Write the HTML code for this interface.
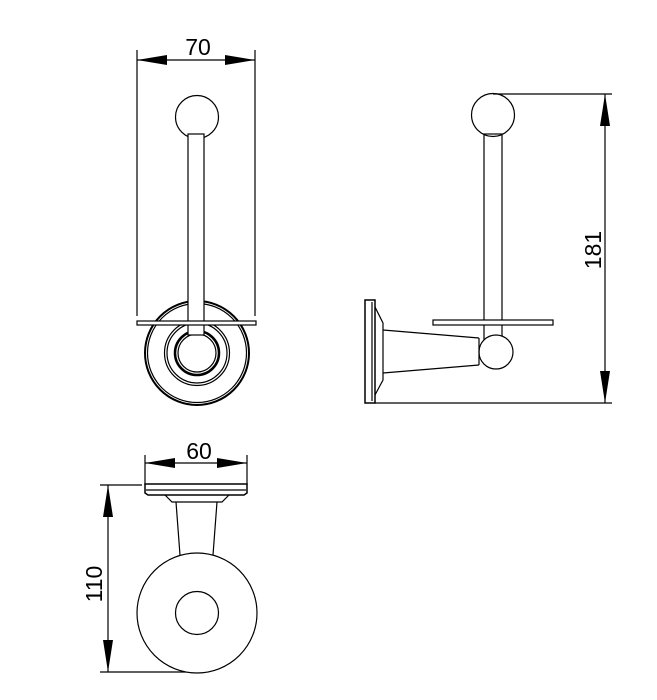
<!DOCTYPE html>
<html><head><meta charset="utf-8"><style>html,body{margin:0;padding:0;background:#fff}svg{display:block}</style></head><body>
<svg width="657" height="700" viewBox="0 0 657 700" xmlns="http://www.w3.org/2000/svg" font-family="Liberation Sans, sans-serif">
<g fill="none" stroke="#000" stroke-width="1.2">
<!-- front view -->
<line x1="137" y1="50" x2="137" y2="316"/><line x1="255" y1="50" x2="255" y2="316"/>
<line x1="137" y1="60" x2="255" y2="60"/>
<circle cx="197" cy="117" r="21.5"/>
<circle cx="197" cy="353" r="52" stroke-width="2"/>
<circle cx="197" cy="353" r="49.5"/>
<circle cx="197" cy="353" r="32.5"/>
<circle cx="197" cy="353" r="30"/>
<circle cx="197" cy="353" r="22" stroke-width="2.5"/>
<circle cx="197" cy="353" r="19"/>
<rect x="188" y="134" width="16" height="201" fill="#fff"/>
<rect x="137" y="321" width="119" height="4" fill="#fff"/>
<!-- side view -->
<line x1="493" y1="94" x2="612" y2="94"/><line x1="375" y1="403" x2="612" y2="403"/>
<line x1="605" y1="94" x2="605" y2="403"/>
<circle cx="493" cy="115" r="21.5"/>
<rect x="484" y="134" width="18" height="206"/>
<rect x="433" y="320" width="120" height="5" fill="#fff"/>
<circle cx="496" cy="352" r="17" fill="#fff"/>
<line x1="479" y1="338" x2="479" y2="365"/>
<rect x="365" y="300" width="10" height="103" stroke-width="1.5"/>
<line x1="372" y1="302" x2="372" y2="401"/>
<path d="M375 307 L383 323 L383 380 L375 395"/>
<path d="M383 330 L479 338 M383 373 L479 365"/>
<!-- bottom view -->
<line x1="145" y1="455" x2="145" y2="485"/><line x1="247" y1="455" x2="247" y2="485"/>
<line x1="145" y1="463" x2="247" y2="463"/>
<line x1="100" y1="485" x2="142" y2="485"/><line x1="100" y1="672" x2="197" y2="672"/>
<line x1="108" y1="485" x2="108" y2="672"/>
<path d="M145 484 H247 V493 L244 495 H148 L145 493 Z" stroke-width="1.5"/>
<line x1="146" y1="490" x2="246" y2="490"/>
<path d="M165 495 L172 502 H222 L229 495"/>
<path d="M176 502 L180 555 M217 502 L213 555"/>
<circle cx="197" cy="613" r="60" fill="#fff"/>
<circle cx="197" cy="613" r="21.5"/>
</g>
<g fill="#000">
<path d="M137 60 L167 55 L167 65 Z"/><path d="M255 60 L225 55 L225 65 Z"/>
<path d="M605 94 L600 126 L610 126 Z"/><path d="M605 403 L600 371 L610 371 Z"/>
<path d="M145 463 L175 458 L175 468 Z"/><path d="M247 463 L217 458 L217 468 Z"/>
<path d="M108 485 L103 517 L113 517 Z"/><path d="M108 672 L103 640 L113 640 Z"/>
</g>
<g font-size="23" text-anchor="middle" fill="#000">
<text x="198" y="55">70</text>
<text x="199" y="459">60</text>
<text transform="translate(601,250) rotate(-90)">181</text>
<text transform="translate(102,584) rotate(-90)">110</text>
</g>
</svg>
</body></html>
